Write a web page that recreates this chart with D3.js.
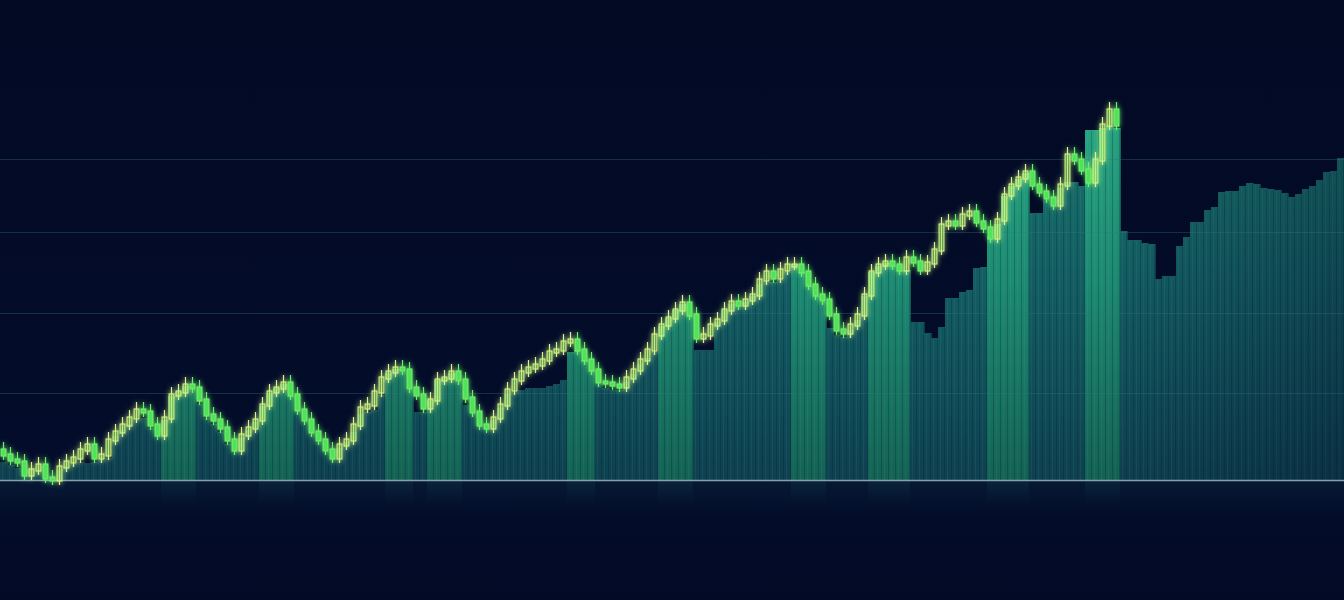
<!DOCTYPE html>
<html><head><meta charset="utf-8">
<script src="https://cdn.jsdelivr.net/npm/d3@7"></script>
<style>html,body{margin:0;padding:0;background:#020a25;overflow:hidden}svg{display:block}</style>
</head><body><svg id="c" width="1344" height="600"></svg>
<script>
// candle closing values (one per period, open = previous close)
const firstOpen = 30;
const candleClose = [25,20,18,5,10,15,2,0,13,18,22,30,35,22,25,40,48,55,62,70,68,55,45,62,85,88,95,92,80,65,
60,52,40,30,45,52,60,75,88,92,97,85,70,60,48,40,30,22,35,40,55,72,75,88,102,108,112,110,92,85,
72,80,100,102,108,100,82,68,55,52,62,75,90,100,108,112,115,120,128,130,138,140,130,120,110,98,97,95,93,102,
110,120,130,145,155,162,170,177,165,142,145,155,160,170,178,175,180,185,200,208,202,210,215,215,208,195,185,180,165,150,
147,155,165,185,208,215,218,215,210,222,218,210,217,230,255,258,255,265,268,258,252,242,260,285,295,302,308,295,288,282,
275,295,325,320,310,298,320,355,370,355];
// area / bar values (one per period, continues past the candles)
const barValues = [18,15,12,10,12,10,4,2,10,14,16,18,17,18,20,22,44,50,56,60,62,52,44,60,84,88,94,90,76,62,
56,48,36,30,42,50,58,74,87,92,96,84,68,58,46,38,28,22,32,38,48,66,68,70,85,107,111,108,90,68,
68,80,100,102,107,98,75,66,54,52,60,72,86,88,90,92,92,92,94,96,100,128,130,120,109,96,92,90,90,98,
106,116,122,128,154,162,170,176,164,130,130,130,158,170,176,174,178,184,196,198,198,200,208,216,208,194,184,178,152,145,
143,150,160,184,208,214,217,214,210,210,158,158,147,142,153,182,182,188,190,212,213,244,256,284,294,301,307,267,267,280,
274,292,298,298,294,350,350,352,354,352,249,240,240,237,236,201,204,204,234,243,258,258,270,273,288,289,289,294,297,296,
292,291,290,287,283,286,291,294,300,308,309,322];
// highlighted bands (period index ranges, inclusive)
const highlightRanges = [[23,27],[37,41],[55,58],[61,65],[81,84],[94,98],[113,117],[124,129],[141,146],[155,159]];
const gridValues = [87,167,248,321];

const W = 1344, H = 600;
const svg = d3.select('#c');
const defs = svg.append('defs');

function grad(id, x1, y1, x2, y2, stops) {
  const g = defs.append('linearGradient').attr('id', id).attr('gradientUnits', 'userSpaceOnUse')
    .attr('x1', x1).attr('y1', y1).attr('x2', x2).attr('y2', y2);
  stops.forEach(s => g.append('stop').attr('offset', s[0]).attr('stop-color', s[1]).attr('stop-opacity', s[2] == null ? 1 : s[2]));
}
grad('bg', 0, 0, 0, H, [[0, '#020a24'], [0.8, '#030c2a'], [1, '#020a26']]);
grad('nm', 0, 120, 0, 480, [[0, '#18736b'], [0.45, '#135d62'], [1, '#0e4050']]);
grad('hl', 0, 120, 0, 480, [[0, '#27a581'], [0.45, '#1d8a72'], [1, '#146254']]);
grad('refl', 0, 481, 0, 520, [[0, '#2a8a8a', 0.1], [1, '#2a8a8a', 0]]);
grad('reflHl', 0, 481, 0, 505, [[0, '#2fae86', 0.07], [1, '#2fae86', 0]]);
grad('fadeR', 1100, 0, W, 0, [[0, '#020a25', 0], [1, '#020a25', 0.3]]);

const glow = defs.append('filter').attr('id', 'glow').attr('x', '-5%').attr('y', '-20%').attr('width', '110%').attr('height', '140%');
glow.append('feGaussianBlur').attr('stdDeviation', 2.4).attr('result', 'b');
const fm = glow.append('feMerge');
fm.append('feMergeNode').attr('in', 'b');
fm.append('feMergeNode').attr('in', 'SourceGraphic');

svg.append('rect').attr('width', W).attr('height', H).attr('fill', 'url(#bg)');

const x = d3.scaleBand().domain(d3.range(barValues.length)).range([0, W]).padding(0);
const y = d3.scaleLinear().domain([0, 480]).range([480, 0]);
const bw = x.bandwidth();
const isHl = i => highlightRanges.some(r => i >= r[0] && i <= r[1]);

// bars
const bars = svg.append('g');
bars.selectAll('rect').data(barValues).join('rect')
  .attr('x', (d, i) => x(i)).attr('y', d => y(d))
  .attr('width', bw + 0.6).attr('height', d => y(0) - y(d))
  .attr('fill', (d, i) => isHl(i) ? 'url(#hl)' : 'url(#nm)');
// striations
bars.selectAll('line.s').data(barValues).join('line').attr('class', 's')
  .attr('x1', (d, i) => x(i) + bw - 0.5).attr('x2', (d, i) => x(i) + bw - 0.5)
  .attr('y1', d => y(d) + 1).attr('y2', y(0))
  .attr('stroke', '#031a30').attr('stroke-opacity', 0.25).attr('stroke-width', 1);
bars.selectAll('line.l').data(barValues).join('line').attr('class', 'l')
  .attr('x1', (d, i) => x(i) + 2.5).attr('x2', (d, i) => x(i) + 2.5)
  .attr('y1', d => y(d) + 1).attr('y2', y(0))
  .attr('stroke', '#7fe0c8').attr('stroke-opacity', 0.07).attr('stroke-width', 1);
svg.append('rect').attr('x', 1100).attr('y', 0).attr('width', W - 1100).attr('height', 480).attr('fill', 'url(#fadeR)');

// reflection below baseline
svg.append('rect').attr('x', 0).attr('y', 481).attr('width', W).attr('height', 40).attr('fill', 'url(#refl)');
svg.append('g').selectAll('rect').data(highlightRanges).join('rect')
  .attr('x', r => x(r[0])).attr('y', 481).attr('width', r => x(r[1]) + bw - x(r[0])).attr('height', 24)
  .attr('fill', 'url(#reflHl)');

// grid lines
svg.append('g').selectAll('line').data(gridValues).join('line')
  .attr('x1', 0).attr('x2', W).attr('y1', d => y(d) + 0.5).attr('y2', d => y(d) + 0.5)
  .attr('stroke', '#3a6f85').attr('stroke-opacity', 0.35).attr('stroke-width', 1);

// baseline
svg.append('line').attr('x1', 0).attr('x2', W).attr('y1', y(0) + 0.5).attr('y2', y(0) + 0.5)
  .attr('stroke', '#9bbcc4').attr('stroke-opacity', 0.85).attr('stroke-width', 1.5);

// candles
const candles = candleClose.map((c, i) => {
  const o = i === 0 ? firstOpen : candleClose[i - 1];
  return { i, o, c, up: c >= o };
});
const cg = svg.append('g').attr('filter', 'url(#glow)');
cg.selectAll('line').data(candles).join('line')
  .attr('x1', d => x(d.i) + bw / 2).attr('x2', d => x(d.i) + bw / 2)
  .attr('y1', d => y(Math.max(d.o, d.c)) - 8).attr('y2', d => y(Math.min(d.o, d.c)) + 5)
  .attr('stroke', d => d.up ? '#d6f58a' : '#6cf06a').attr('stroke-width', 1.2);
cg.selectAll('rect').data(candles).join('rect')
  .attr('x', d => x(d.i) + bw / 2 - 2.4).attr('width', 4.8)
  .attr('y', d => y(Math.max(d.o, d.c)) - 1)
  .attr('height', d => Math.max(3, Math.abs(y(d.o) - y(d.c)) + 2))
  .attr('fill', d => d.up ? 'rgba(120,230,100,0.25)' : '#4fe35c')
  .attr('stroke', d => d.up ? '#d2f583' : '#74f06c').attr('stroke-width', 1.1);
</script></body></html>
